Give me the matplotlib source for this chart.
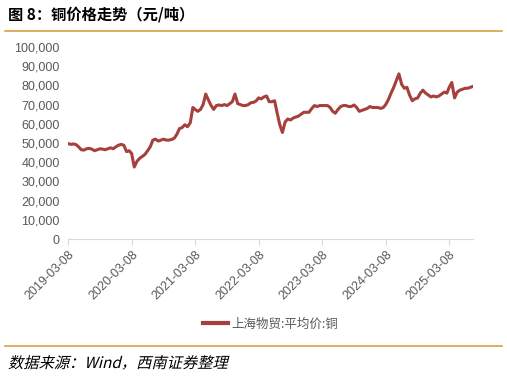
import matplotlib
matplotlib.use("Agg")
import matplotlib.pyplot as plt
from matplotlib.lines import Line2D
from matplotlib.textpath import TextPath
from matplotlib.patches import PathPatch
from matplotlib.font_manager import FontProperties
from matplotlib.transforms import Affine2D
import pandas as pd

plt.rcParams['font.family'] = ['Liberation Sans', 'Noto Sans CJK SC', 'DejaVu Sans']

# Semi-monthly readings (8th and 23rd of each month), yuan/ton
start_month = "2019-03"
prices = [
    # 2019 Mar - Dec
    49700, 49300, 49500, 49200, 48000, 46500, 46300, 47000, 47200, 46800,
    46000, 46500, 47000, 46800, 46500, 47000, 47500, 47000, 48000, 48800,
    # 2020
    49300, 48800, 45500, 46000, 44500, 37500, 40500, 42000, 43000, 44000,
    46000, 48000, 51500, 52000, 51000, 51500, 52000, 51500, 51500, 51800,
    52500, 54500, 57500, 58000,
    # 2021
    59500, 58500, 60500, 68500, 67500, 66500, 67500, 70000, 75500, 72500,
    69500, 67500, 69500, 69800, 69500, 70000, 69500, 70500, 71500, 75500,
    70500, 70000, 69500, 69500,
    # 2022
    70000, 71000, 71200, 72000, 73500, 73000, 74000, 74500, 71500, 71500,
    72000, 65500, 59500, 55500, 61000, 62500, 62000, 63000, 63500, 64000,
    65000, 66000, 66000, 66000,
    # 2023
    68000, 69500, 69000, 69500, 69500, 69500, 69500, 68500, 66500, 65500,
    67500, 69000, 69500, 69500, 69000, 69000, 69800, 68500, 66500, 67000,
    67500, 68000, 69000, 68500,
    # 2024
    68500, 68500, 68000, 68500, 70000, 72500, 76000, 79000, 82500, 86000,
    80500, 78500, 79000, 75000, 72000, 73000, 73500, 76000, 77500, 76000,
    75000, 74000, 74500, 74000,
    # 2025 Jan - Jul
    74500, 75500, 76500, 76000, 79000, 81500, 73500, 76500, 77500, 78000,
    78500, 78500, 79000, 79500,
]
months = pd.period_range(start_month, periods=len(prices) // 2, freq="M")
dates = []
for m in months:
    dates.append(pd.Timestamp(year=m.year, month=m.month, day=8))
    dates.append(pd.Timestamp(year=m.year, month=m.month, day=23))

tick_labels = ["2019-03-08", "2020-03-08", "2021-03-08", "2022-03-08",
               "2023-03-08", "2024-03-08", "2025-03-08"]
y_ticks = list(range(0, 100001, 10000))
series_name = "上海物贸:平均价:铜"
title = "图 8：铜价格走势（元/吨）"
source = "数据来源：Wind，西南证券整理"

line_color = "#A5403C"
gray = "#595959"
gold = "#D9A04A"
DPI = 100

fig = plt.figure(figsize=(5.07, 3.78), dpi=DPI)
ax = fig.add_axes([68/507, 1-239/378, (473-68)/507, (239-47)/378])

ax.plot(dates, prices, color=line_color, lw=2.2, solid_joinstyle="round")
ax.set_ylim(0, 100000)
ax.set_xlim(pd.Timestamp("2019-03-08"), dates[-1])
ax.set_yticks(y_ticks)
ax.set_yticklabels([f"{v:,}" for v in y_ticks], fontsize=9, color=gray)
tick_dates = [pd.Timestamp(t) for t in tick_labels]
ax.set_xticks(tick_dates)
ax.set_xticklabels(tick_labels, rotation=45, ha="right", rotation_mode="anchor",
                   fontsize=9, color=gray)
for s in ["top", "right", "left"]:
    ax.spines[s].set_visible(False)
ax.spines["bottom"].set_color("#D9D9D9")
ax.tick_params(axis="y", length=0, pad=6)
ax.tick_params(axis="x", length=4, color="#D9D9D9", pad=3)

# Legend
leg = ax.legend([Line2D([0], [0], color=line_color, lw=3)], [series_name],
                loc="center", bbox_to_anchor=(0.5, (324 - 239) / -192), bbox_transform=ax.transAxes,
                frameon=False, handlelength=2.0, handletextpad=0.2,
                prop={'family': ['Noto Sans CJK SC', 'DejaVu Sans'], 'size': 9})
for t in leg.get_texts():
    t.set_color(gray)

# Title and rules
fig.text(8/507, 1-15/378, title, fontsize=11, fontweight="bold",
         family=["Noto Sans CJK SC", "DejaVu Sans"], va="center", ha="left", color="black")
fig.add_artist(Line2D([5/507, 502/507], [1-31/378, 1-31/378], color=gold, lw=1.2))
fig.add_artist(Line2D([5/507, 502/507], [1-346/378, 1-346/378], color=gold, lw=1.2))

# Italic (skewed) source note
fp = FontProperties(family=["Noto Sans CJK SC"], size=11)
tp = TextPath((0, 0), source, prop=fp)
tr = Affine2D().skew_deg(14, 0).scale(DPI / 72.0).translate(8, 378 - 368)
fig.add_artist(PathPatch(tp, transform=tr, facecolor="black", edgecolor="none"))

fig.savefig("out.png", dpi=DPI)
